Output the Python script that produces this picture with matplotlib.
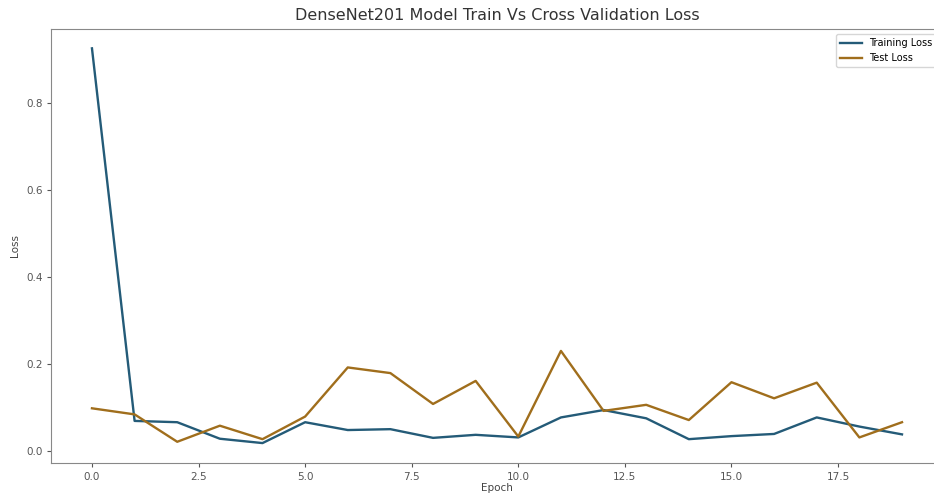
import matplotlib
matplotlib.use("Agg")
import matplotlib.pyplot as plt

epochs = list(range(20))
train_loss = [0.926, 0.069, 0.066, 0.028, 0.018, 0.066, 0.048, 0.050, 0.030, 0.037,
              0.031, 0.077, 0.094, 0.075, 0.027, 0.034, 0.039, 0.077, 0.056, 0.038]
test_loss = [0.098, 0.084, 0.021, 0.058, 0.027, 0.079, 0.192, 0.179, 0.108, 0.161,
             0.033, 0.230, 0.092, 0.106, 0.071, 0.158, 0.121, 0.157, 0.031, 0.066]

fig = plt.figure(figsize=(9.34, 4.96), dpi=100)
ax = fig.add_axes([0.0551, 0.0669, 0.954, 0.8754])

ax.plot(epochs, train_loss, color="#245b78", lw=1.7, label="Training Loss")
ax.plot(epochs, test_loss, color="#a06e1c", lw=1.7, label="Test Loss")

ax.set_title("DenseNet201 Model Train Vs Cross Validation Loss", fontsize=11.5, color="#333333")
ax.set_xlabel("Epoch", fontsize=7.5, color="#444444", labelpad=1)
ax.set_ylabel("Loss", fontsize=7.5, color="#444444")
ax.tick_params(labelsize=7.5, colors="#555555", length=3)
for s in ax.spines.values():
    s.set_color("#888888")
ax.legend(loc="upper right", fontsize=7, frameon=True, edgecolor="#cccccc", handlelength=2.2,
          borderaxespad=0.6)

fig.savefig("out.png", dpi=100)
